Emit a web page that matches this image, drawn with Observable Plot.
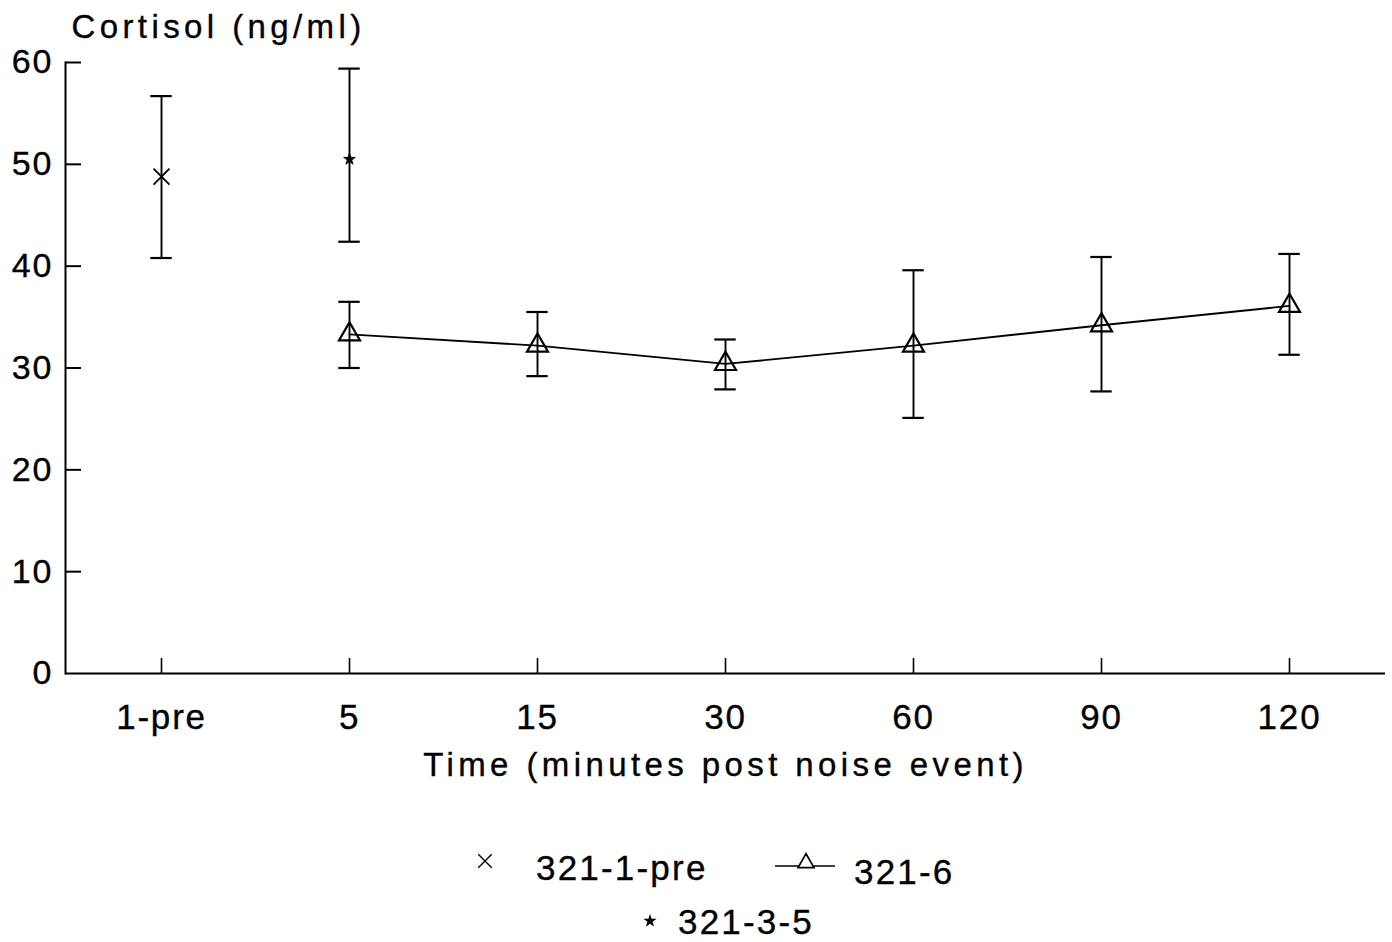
<!DOCTYPE html>
<html>
<head>
<meta charset="utf-8">
<script src="https://cdn.jsdelivr.net/npm/d3@7"></script>
<script src="https://cdn.jsdelivr.net/npm/@observablehq/plot@0.6"></script>
<style>
  body { margin: 0; background: #fff; }
  #figure { position: relative; width: 1392px; height: 942px; background: #fff;
            font-family: "Liberation Sans", Arial, sans-serif; color: #000; }
  #figure svg text { font-family: "Liberation Sans", Arial, sans-serif;
                     stroke: #000; stroke-width: 0.35px; }
  g[aria-label="y-axis tick label"] text { letter-spacing: 2px; }
  g[aria-label="x-axis tick label"] text { letter-spacing: 1.8px; }
  g[aria-label="text"] text { letter-spacing: 4.4px; }
  .legend-item { position: absolute; font-size: 35px; line-height: 35px;
                 letter-spacing: 2.2px; white-space: nowrap;
                 -webkit-text-stroke: 0.35px #000; }
  .legend-symbol { position: absolute; overflow: visible; }
</style>
</head>
<body>
<div id="figure"></div>
<script>
// Sampling times (categorical x axis)
const timePoints = ["1-pre", "5", "15", "30", "60", "90", "120"];
const yTicks = [0, 10, 20, 30, 40, 50, 60];

// Group 321-1-pre: mean with error bar
const preTimes = ["1-pre"];
const preMean = [48.8];
const preLow = [40.8];
const preHigh = [56.7];

// Group 321-3-5
const g35Times = ["5"];
const g35Mean = [50.5];
const g35Low = [42.4];
const g35High = [59.4];

// Group 321-6: time course after the noise event
const g6Times = ["5", "15", "30", "60", "90", "120"];
const g6Mean = [33.3, 32.2, 30.4, 32.2, 34.2, 36.1];
const g6Low = [30.0, 29.2, 27.9, 25.1, 27.7, 31.3];
const g6High = [36.5, 35.5, 32.8, 39.6, 40.9, 41.2];

const yLabel = "Cortisol (ng/ml)";
const xLabel = "Time (minutes post noise event)";

const rows = (times, mean, low, high, group) =>
  times.map((t, i) => ({time: t, mean: mean[i], low: low[i], high: high[i], group}));

const pre = rows(preTimes, preMean, preLow, preHigh, "321-1-pre");
const g35 = rows(g35Times, g35Mean, g35Low, g35High, "321-3-5");
const g6 = rows(g6Times, g6Mean, g6Low, g6High, "321-6");
const all = [...pre, ...g35, ...g6];

const width = 1392, height = 800;
const marginLeft = 65, marginRight = 7, marginTop = 62, marginBottom = 127;
const frameWidth = width - marginLeft - marginRight;
const bandWidth = frameWidth / timePoints.length;
const capWidth = 22;
const capInset = (bandWidth - capWidth) / 2;

const chart = Plot.plot({
  width, height, marginLeft, marginRight, marginTop, marginBottom,
  style: {background: "white", color: "black", overflow: "visible",
          fontFamily: "Liberation Sans, Arial, sans-serif"},
  x: {type: "band", domain: timePoints, padding: 0},
  y: {domain: [0, 60]},
  marks: [
    // axis lines
    Plot.frame({anchor: "left", stroke: "black", strokeWidth: 2}),
    Plot.ruleY([0], {stroke: "black", strokeWidth: 2}),
    // inward y ticks
    Plot.ruleY(yTicks.filter(d => d > 0), {stroke: "black", strokeWidth: 2, insetRight: frameWidth - 16}),
    // upward x ticks
    Plot.ruleX(timePoints, {x: d => d, y: 0, insetTop: -15, stroke: "black", strokeWidth: 1.6}),
    Plot.axisY({ticks: yTicks, tickSize: 0, tickPadding: 12, fontSize: 34, label: null}),
    Plot.axisX({tickSize: 0, tickPadding: 31, fontSize: 35, label: null}),
    // error bars
    Plot.ruleX(all, {x: "time", y1: "low", y2: "high", stroke: "black", strokeWidth: 1.9}),
    Plot.tickY(all, {x: "time", y: "low", insetLeft: capInset, insetRight: capInset, stroke: "black", strokeWidth: 2.2}),
    Plot.tickY(all, {x: "time", y: "high", insetLeft: capInset, insetRight: capInset, stroke: "black", strokeWidth: 2.2}),
    // 321-6 time course
    Plot.line(g6, {x: "time", y: "mean", stroke: "black", strokeWidth: 1.9}),
    Plot.dot(g6, {x: "time", y: "mean", symbol: "triangle", r: 7.8, stroke: "black", fill: "none", strokeWidth: 2.2}),
    // 321-1-pre and 321-3-5 means
    Plot.dot(pre, {x: "time", y: "mean", symbol: "times", r: 7.3, stroke: "black", strokeWidth: 1.8}),
    Plot.dot(g35, {x: "time", y: "mean", symbol: "star", r: 3.7, fill: "black", stroke: "black", strokeWidth: 0.8}),
    // titles
    Plot.text([yLabel], {text: d => d, frameAnchor: "top-left", textAnchor: "start", lineAnchor: "middle",
                         dx: 6, dy: -35, fontSize: 33, fill: "black"}),
    Plot.text([xLabel], {text: d => d, frameAnchor: "bottom", lineAnchor: "middle",
                         dy: 92, fontSize: 33, fill: "black"})
  ]
});

const fig = document.getElementById("figure");
fig.appendChild(chart);

// Legend below the plot
const ns = "http://www.w3.org/2000/svg";
function symbolSvg(left, top, w, h, draw) {
  const s = document.createElementNS(ns, "svg");
  s.setAttribute("class", "legend-symbol");
  s.setAttribute("width", w);
  s.setAttribute("height", h);
  s.style.left = left + "px";
  s.style.top = top + "px";
  s.innerHTML = draw;
  fig.appendChild(s);
}
function legendText(label, left, top) {
  const d = document.createElement("div");
  d.className = "legend-item";
  d.style.left = left + "px";
  d.style.top = top + "px";
  d.textContent = label;
  fig.appendChild(d);
}
const timesPath = d3.symbol(d3.symbolTimes, 120)();
const starPath = d3.symbol(d3.symbolStar, 55)();
const triPath = d3.symbol(d3.symbolTriangle, 110)();

symbolSvg(477, 853, 16, 16, `<path transform="translate(8,8)" d="${timesPath}" fill="none" stroke="black" stroke-width="1.4"/>`);
legendText(pre[0].group, 536, 850);
symbolSvg(775, 852, 62, 20, `<line x1="0" x2="60" y1="14" y2="14" stroke="black" stroke-width="1.7"/>
  <path transform="translate(31,11)" d="${triPath}" fill="white" stroke="black" stroke-width="1.7"/>`);
legendText(g6[0].group, 854, 854);
symbolSvg(642, 913, 16, 16, `<path transform="translate(8,8)" d="${starPath}" fill="black"/>`);
legendText(g35[0].group, 678, 904);
</script>
</body>
</html>
